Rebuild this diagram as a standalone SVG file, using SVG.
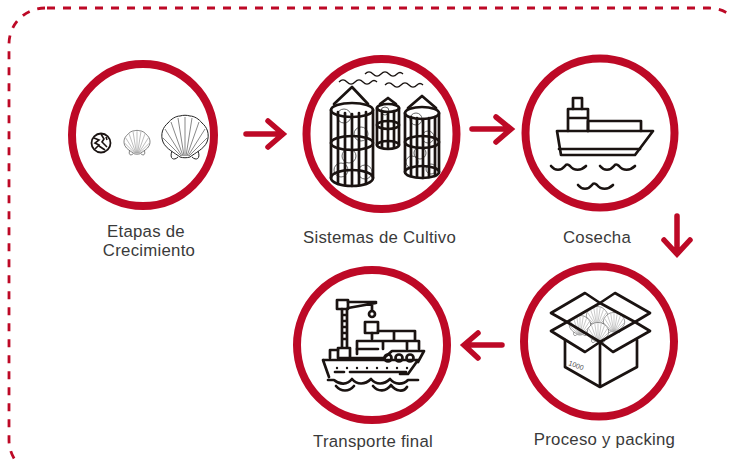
<svg xmlns="http://www.w3.org/2000/svg" xmlns:xlink="http://www.w3.org/1999/xlink" width="729" height="463" viewBox="0 0 729 463">
<style>
.ring{fill:#fff;stroke:#bd0926;stroke-width:8}
.ink{fill:none;stroke:#1a1311;stroke-width:2.7;stroke-linejoin:round;stroke-linecap:round}
.arrow{fill:none;stroke:#bd0926;stroke-width:5.5;stroke-linecap:round;stroke-linejoin:miter}
.lab{font-family:"Liberation Sans",Arial,sans-serif;font-size:16.8px;letter-spacing:.25px;fill:#3a3a3a;text-anchor:middle}
</style>
<defs>
<g id="shell">
<path d="M-7,21C-11,25-16,23-13,15M7,21C11,25 16,23 13,15" fill="#fff" stroke="#222" stroke-width="1"/>
<path d="M-5,21C-10,17-19,13-22,6C-25,-2-22,-9-17,-13C-14,-17-9,-20-5,-20C-2,-21 2,-21 5,-20C9,-20 14,-17 17,-13C22,-9 25,-2 22,6C19,13 10,17 5,21C2,22-2,22-5,21Z" fill="#fff" stroke="#222" stroke-width="1"/>
<path d="M-2,20L-14,-14M-1,20L-7,-18M0,20L0,-19M1,20L7,-18M2,20L14,-14M3,20L20,-7M-3,20L-20,-7M4,20L22,2M-4,20L-22,2" fill="none" stroke="#555" stroke-width=".7"/>
</g>
<path id="wave" d="M0,0c3,-3 5,-3 8,0s5,3 8,0c3,-3 5,-3 8,0s5,3 8,0c2,-2 4,-2 6,0" fill="none" stroke="#1a1311" stroke-width="1.3"/>
<path id="swell" d="M0,0c4,5 10,5 14,0c1,-2 3,-2 5,0c4,5 11,5 16,0" fill="none" stroke="#1a1311" stroke-width="2.6" stroke-linecap="round"/>
</defs>
<rect width="729" height="463" fill="#fff"/>
<rect id="border" x="9" y="8" width="736" height="468" rx="36" fill="none" stroke="#bd0926" stroke-width="2.8" stroke-dasharray="8 8" stroke-dashoffset="-2"/>
<g id="connectors">
<path class="arrow" d="M246,134H282M268,121L283,134L268,147"/>
<path class="arrow" d="M472,129H509M496,117L511,129L496,142"/>
<path class="arrow" d="M677,216V252M664,240L677,254L690,240"/>
<path class="arrow" d="M502,345H466M478,333L464,345L478,358"/>
</g>
<g id="node-etapas">
<circle class="ring" cx="143" cy="135" r="71"/>
<circle cx="101" cy="143" r="9.5" fill="none" stroke="#1a1311" stroke-width="1.8"/>
<path d="M94,138l5,2l-4,3l4,2l-4,4M101,134l3,5l-2,3l5,5M99,146l6,4M106,137l1,3" fill="none" stroke="#1a1311" stroke-width="1.6"/>
<use xlink:href="#shell" href="#shell" transform="translate(137,142) scale(.56)"/>
<use xlink:href="#shell" href="#shell" transform="translate(185,136) scale(1)"/>
<text class="lab" x="146" y="237">Etapas de</text>
<text class="lab" x="149" y="256">Crecimiento</text>
</g>
<g id="node-sistemas">
<circle class="ring" cx="381.5" cy="134" r="75"/>
<use xlink:href="#wave" href="#wave" transform="translate(339,82)"/>
<use xlink:href="#wave" href="#wave" transform="translate(365,74)"/>
<use xlink:href="#wave" href="#wave" transform="translate(385,85)"/>
<g fill="none" stroke="#555" stroke-width=".9">
<circle cx="344" cy="116" r="7"/><circle cx="361" cy="134" r="7"/><circle cx="349" cy="156" r="7"/><circle cx="341" cy="170" r="7"/><circle cx="365" cy="172" r="7"/>
<circle cx="416" cy="119" r="6"/><circle cx="428" cy="137" r="6"/><circle cx="420" cy="153" r="6"/><circle cx="412" cy="162" r="6"/><circle cx="431" cy="169" r="5"/>
<circle cx="385" cy="111" r="4"/>
</g>
<g class="ink">
<path d="M331,110V178M373,110V178M338,112V184M345,113V185M352,114V186M359,113V185M366,112V184"/>
<ellipse cx="352" cy="110" rx="21" ry="7"/><ellipse cx="352" cy="143" rx="21" ry="7"/><ellipse cx="352" cy="178" rx="21" ry="8"/>
<path d="M334,104L352,87L368,104"/>
<path d="M377,108V145M399,108V145M382,111V147M388,112V148M394,111V147"/>
<ellipse cx="388" cy="108" rx="11" ry="4"/><ellipse cx="388" cy="125" rx="11" ry="4"/><ellipse cx="388" cy="145" rx="11" ry="4"/>
<path d="M380,104L388,98L396,104"/>
<path d="M405,113V172M439,113V172M411,117V176M417,118V177M423,119V178M429,118V177M435,117V176"/>
<ellipse cx="422" cy="113" rx="17" ry="6"/><ellipse cx="422" cy="142" rx="17" ry="6"/><ellipse cx="422" cy="172" rx="17" ry="6"/>
<path d="M408,108L422,96L436,108"/>
</g>
<text class="lab" x="379.5" y="243">Sistemas de Cultivo</text>
</g>
<g id="node-cosecha">
<circle class="ring" cx="600" cy="133" r="74.5"/>
<g class="ink">
<path d="M557,131H653L635,155H561Z"/>
<path d="M559,149H640"/>
<path d="M588,131V121H641V131"/>
<path d="M568,131V109H588V131M568,118H588"/>
<path d="M573,109V98H582V109"/>
</g>
<use xlink:href="#swell" href="#swell" transform="translate(551,166)"/>
<use xlink:href="#swell" href="#swell" transform="translate(600,166)"/>
<use xlink:href="#swell" href="#swell" transform="translate(578,185)"/>
<text class="lab" x="597" y="243">Cosecha</text>
</g>
<g id="node-proceso">
<circle class="ring" cx="599" cy="341.5" r="75"/>
<use xlink:href="#shell" href="#shell" transform="translate(597,316) scale(.46)"/>
<use xlink:href="#shell" href="#shell" transform="translate(614,322) scale(.46)"/>
<use xlink:href="#shell" href="#shell" transform="translate(580,325) scale(.46)"/>
<use xlink:href="#shell" href="#shell" transform="translate(598,332) scale(.46)"/>
<g class="ink">
<path d="M600,303L585,293L551,313L567,322Z"/>
<path d="M600,303L615,293L650,313L635,322Z"/>
<path d="M567,322L551,331L585,352L600,342Z"/>
<path d="M635,322L650,331L613,352L600,342Z"/>
<path d="M565,340V367L600,387L637,367V340M600,342V387"/>
</g>
<text x="568" y="365" transform="rotate(20 568 365)" font-family="Liberation Sans,Arial,sans-serif" font-size="7" fill="#555">1000</text>
<text class="lab" x="604.5" y="445">Proceso y packing</text>
</g>
<g id="node-transporte">
<circle class="ring" cx="372" cy="345" r="75"/>
<g class="ink">
<rect x="337" y="300" width="11" height="9"/>
<path d="M342,309V347M347,309V347M342,315H347M342,321H347M342,327H347M342,333H347M342,339H347"/>
<path d="M348,302H376M348,308L376,303M372,303V311"/>
<circle cx="372" cy="314" r="3"/>
<rect x="365" y="322" width="13" height="11"/>
<path d="M372,333V339"/>
<path d="M378,331H415V341M394,331V341M357,341H419V349M383,341V349M407,341V349M357,341V354"/>
<rect x="338" y="348" width="12" height="10"/>
<path d="M330,358V350H338M357,349H378M350,358H384L392,351H424L418,362"/>
<path d="M323,360H418L408,374H400M323,360L329,377"/>
<circle cx="388" cy="358" r="3.5"/><circle cx="399" cy="358" r="3.5"/><circle cx="410" cy="358" r="3.5"/>
<path d="M350,372H406M335,372H344"/>
<path d="M328,380H334C340,385 347,385 352,379C357,385 365,385 371,379C376,385 384,385 390,379C395,385 403,385 408,380H418"/>
<path d="M336,386C341,392 349,392 354,386M373,386C378,392 386,392 391,385C396,392 404,392 407,387"/>
</g>
<g fill="#1a1311"><circle cx="337" cy="368" r="1.2"/><circle cx="347" cy="368" r="1.2"/><circle cx="357" cy="368" r="1.2"/><circle cx="367" cy="368" r="1.2"/><circle cx="377" cy="368" r="1.2"/><circle cx="387" cy="368" r="1.2"/><circle cx="397" cy="368" r="1.2"/><circle cx="407" cy="368" r="1.2"/></g>
<text class="lab" x="373" y="447">Transporte final</text>
</g>
</svg>
